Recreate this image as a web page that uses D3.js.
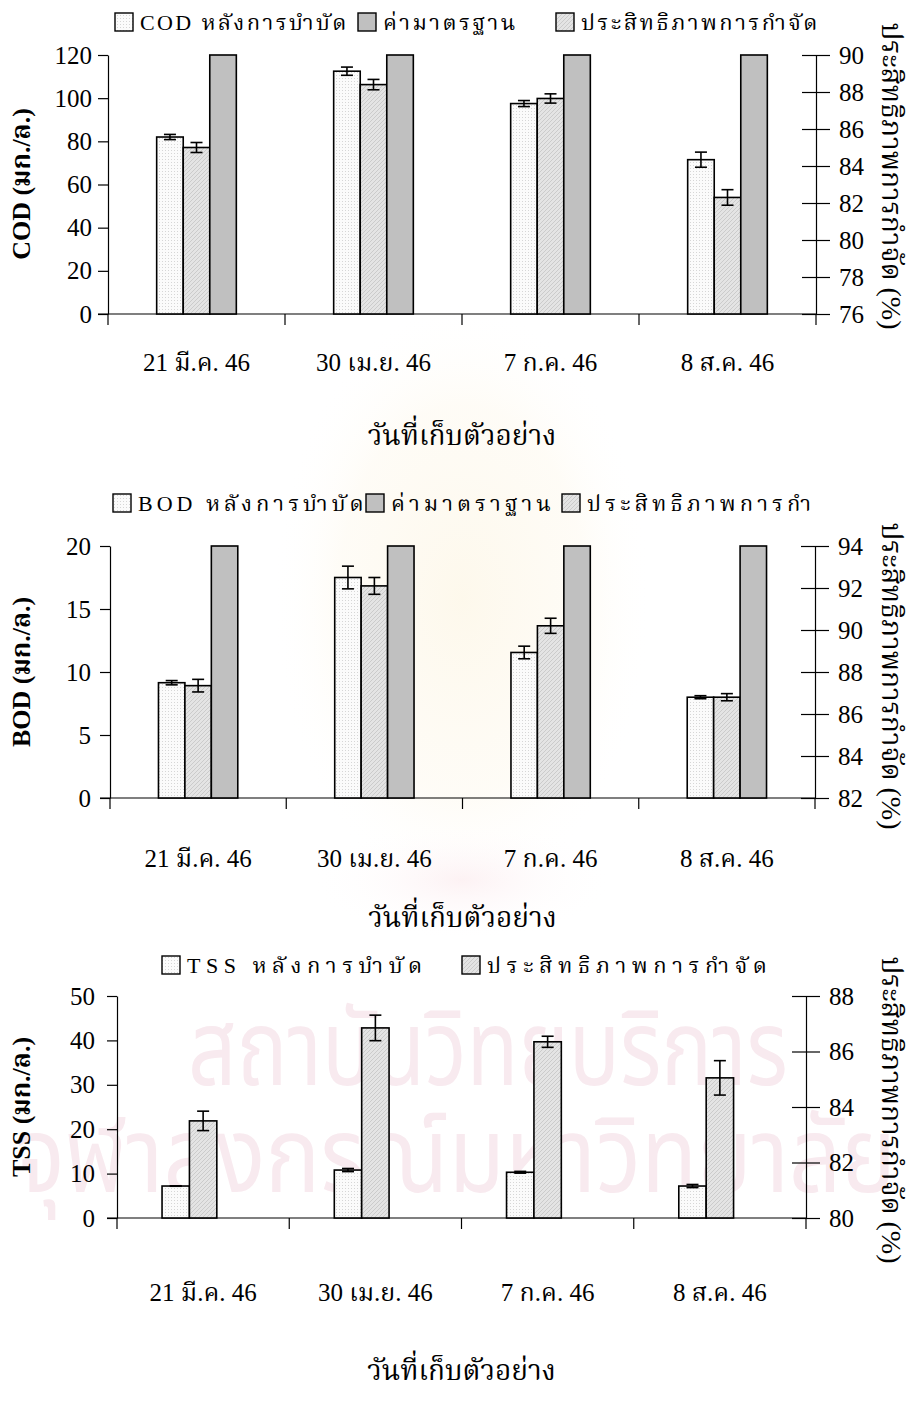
<!DOCTYPE html>
<html>
<head>
<meta charset="utf-8">
<script src="https://cdn.jsdelivr.net/npm/d3@7/dist/d3.min.js"></script>
<style>
  html, body { margin: 0; padding: 0; background: #fff; }
  svg { display: block; }
</style>
</head>
<body>
<svg id="fig" width="913" height="1405"></svg>
<script>
// Sampling dates (x categories shared by all three panels)
const dates = ["21 มี.ค. 46", "30 เม.ย. 46", "7 ก.ค. 46", "8 ส.ค. 46"];

// COD after treatment (mg/L), standard, removal efficiency (%)
const codAfter = [82, 112.5, 97.5, 71.5];
const codAfterErr = [1.2, 1.9, 1.4, 3.5];
const codStandard = [120, 120, 120, 120];
const codRemoval = [85.0, 88.4, 87.65, 82.3];
const codRemovalErr = [0.27, 0.28, 0.25, 0.42];
const codLeftTicks = [0, 20, 40, 60, 80, 100, 120];
const codRightTicks = [76, 78, 80, 82, 84, 86, 88, 90];

// BOD after treatment (mg/L), standard, removal efficiency (%)
const bodAfter = [9.15, 17.5, 11.55, 8.0];
const bodAfterErr = [0.17, 0.9, 0.5, 0.12];
const bodStandard = [20, 20, 20, 20];
const bodRemoval = [87.35, 92.1, 90.2, 86.8];
const bodRemovalErr = [0.3, 0.4, 0.36, 0.17];
const bodLeftTicks = [0, 5, 10, 15, 20];
const bodRightTicks = [82, 84, 86, 88, 90, 92, 94];

// TSS after treatment (mg/L) and removal efficiency (%)
const tssAfter = [7.2, 10.8, 10.3, 7.2];
const tssAfterErr = [0.05, 0.35, 0.2, 0.35];
const tssRemoval = [83.5, 86.85, 86.35, 85.05];
const tssRemovalErr = [0.35, 0.46, 0.2, 0.62];
const tssLeftTicks = [0, 10, 20, 30, 40, 50];
const tssRightTicks = [80, 82, 84, 86, 88];

const xTitle = "วันที่เก็บตัวอย่าง";
const rightTitle = "ประสิทธิภาพการกำจัด (%)";
const watermarkLines = ["สถาบันวิทยบริการ", "จุฬาลงกรณ์มหาวิทยาลัย"];

const SERIF = "'Liberation Serif', 'DejaVu Serif', 'Noto Serif Thai', 'Noto Sans Thai', serif";
const SANS = "'Noto Sans Thai', 'Noto Sans', 'DejaVu Sans', sans-serif";

const svg = d3.select("#fig");
const defs = svg.append("defs");

// Fill textures for the three bar kinds
const pWhite = defs.append("pattern").attr("id", "fillAfter")
  .attr("width", 3).attr("height", 3).attr("patternUnits", "userSpaceOnUse");
pWhite.append("rect").attr("width", 3).attr("height", 3).attr("fill", "#fbfbfb");
pWhite.append("rect").attr("width", 1).attr("height", 1).attr("fill", "#d6d6d6");

const pLight = defs.append("pattern").attr("id", "fillRemoval")
  .attr("width", 4).attr("height", 4).attr("patternUnits", "userSpaceOnUse");
pLight.append("rect").attr("width", 4).attr("height", 4).attr("fill", "#e4e4e4");
pLight.append("path").attr("d", "M0,4 L4,0 M-1,1 L1,-1 M3,5 L5,3")
  .attr("stroke", "#cbcbcb").attr("stroke-width", 1);

const FILL_AFTER = "url(#fillAfter)";
const FILL_REMOVAL = "url(#fillRemoval)";
const FILL_STANDARD = "#c0c0c0";

// Faint institutional watermark behind the panels
const wm = svg.append("g").attr("class", "watermark");
const glow = defs.append("radialGradient").attr("id", "emblemGlow");
glow.append("stop").attr("offset", "0%").attr("stop-color", "#fcf3dc").attr("stop-opacity", 0.55);
glow.append("stop").attr("offset", "65%").attr("stop-color", "#fdf6e6").attr("stop-opacity", 0.35);
glow.append("stop").attr("offset", "100%").attr("stop-color", "#ffffff").attr("stop-opacity", 0);
wm.append("ellipse").attr("cx", 462).attr("cy", 600).attr("rx", 190).attr("ry", 300)
  .attr("fill", "url(#emblemGlow)");
const pinkGlow = defs.append("radialGradient").attr("id", "emblemBase");
pinkGlow.append("stop").attr("offset", "0%").attr("stop-color", "#fbe9ec").attr("stop-opacity", 0.6);
pinkGlow.append("stop").attr("offset", "100%").attr("stop-color", "#ffffff").attr("stop-opacity", 0);
wm.append("ellipse").attr("cx", 462).attr("cy", 880).attr("rx", 150).attr("ry", 60)
  .attr("fill", "url(#emblemBase)");
wm.append("text").attr("x", 488).attr("y", 1085).attr("text-anchor", "middle")
  .attr("font-family", SANS).attr("font-size", 105).attr("fill", "#f8eaef")
  .attr("textLength", 600).attr("lengthAdjust", "spacingAndGlyphs")
  .text(watermarkLines[0]);
wm.append("text").attr("x", 456).attr("y", 1192).attr("text-anchor", "middle")
  .attr("font-family", SANS).attr("font-size", 105).attr("fill", "#f8eaef")
  .attr("textLength", 880).attr("lengthAdjust", "spacingAndGlyphs")
  .text(watermarkLines[1]);

const panels = [
  {
    id: "cod", top: 55, bottom: 314, left: 108, right: 816, barFrac: 0.15, slots: 3,
    leftDomain: [0, 120], leftTicks: codLeftTicks, leftPad: 6,
    rightDomain: [76, 90], rightTicks: codRightTicks,
    leftTitle: "COD (มก./ล.)", titleCy: 184, rightTitleCy: 176,
    labelDy: 57, xTitleY: 445,
    legendY: 22, legendSpacing: 2.4, legendClip: 818,
    legend: [
      { x: 115, label: "COD หลังการบำบัด", fill: FILL_AFTER },
      { x: 358, label: "ค่ามาตรฐาน", fill: FILL_STANDARD },
      { x: 556, label: "ประสิทธิภาพการกำจัด", fill: FILL_REMOVAL }
    ],
    series: [
      { values: codAfter, errors: codAfterErr, axis: "left", slot: 0, fill: FILL_AFTER },
      { values: codRemoval, errors: codRemovalErr, axis: "right", slot: 1, fill: FILL_REMOVAL },
      { values: codStandard, axis: "left", slot: 2, fill: FILL_STANDARD }
    ]
  },
  {
    id: "bod", top: 546, bottom: 798, left: 110, right: 815, barFrac: 0.15, slots: 3,
    leftDomain: [0, 20], leftTicks: bodLeftTicks, leftPad: 9,
    rightDomain: [82, 94], rightTicks: bodRightTicks,
    leftTitle: "BOD (มก./ล.)", titleCy: 672, rightTitleCy: 676,
    labelDy: 69, xTitleY: 927,
    legendY: 503, legendSpacing: 4, legendClip: 812,
    legend: [
      { x: 113, label: "BOD หลังการบำบัด", fill: FILL_AFTER },
      { x: 366, label: "ค่ามาตราฐาน", fill: FILL_STANDARD },
      { x: 562, label: "ประสิทธิภาพการกำจัด", fill: FILL_REMOVAL }
    ],
    series: [
      { values: bodAfter, errors: bodAfterErr, axis: "left", slot: 0, fill: FILL_AFTER },
      { values: bodRemoval, errors: bodRemovalErr, axis: "right", slot: 1, fill: FILL_REMOVAL },
      { values: bodStandard, axis: "left", slot: 2, fill: FILL_STANDARD }
    ]
  },
  {
    id: "tss", top: 996, bottom: 1218, left: 117, right: 806, barFrac: 0.159, slots: 3,
    leftDomain: [0, 50], leftTicks: tssLeftTicks, leftPad: 12,
    rightDomain: [80, 88], rightTicks: tssRightTicks,
    leftTitle: "TSS (มก./ล.)", titleCy: 1107, rightTitleCy: 1110,
    labelDy: 83, xTitleY: 1380,
    legendY: 965, legendSpacing: 5.5, legendClip: 820,
    legend: [
      { x: 162, label: "TSS หลังการบำบัด", fill: FILL_AFTER },
      { x: 462, label: "ประสิทธิภาพการกำจัด", fill: FILL_REMOVAL }
    ],
    series: [
      { values: tssAfter, errors: tssAfterErr, axis: "left", slot: 0, fill: FILL_AFTER },
      { values: tssRemoval, errors: tssRemovalErr, axis: "right", slot: 1, fill: FILL_REMOVAL }
    ]
  }
];

function styleAxis(sel, size) {
  sel.attr("font-family", SERIF).attr("font-size", size);
  sel.selectAll("text").attr("fill", "#000");
  sel.selectAll("line").attr("stroke", "#000").attr("stroke-width", 1.2);
  sel.select(".domain").attr("stroke", "#000").attr("stroke-width", 1.2);
}

function drawPanel(p) {
  const g = svg.append("g").attr("class", "panel-" + p.id);

  const x = d3.scaleBand().domain(dates).range([p.left, p.right]);
  const bw = x.bandwidth();
  const barW = bw * p.barFrac;
  const slot = d3.scaleBand().domain(d3.range(p.slots))
    .range([bw / 2 - p.slots / 2 * barW, bw / 2 + p.slots / 2 * barW]);
  const yL = d3.scaleLinear().domain(p.leftDomain).range([p.bottom, p.top]);
  const yR = d3.scaleLinear().domain(p.rightDomain).range([p.bottom, p.top]);

  // Left value axis (ticks outside)
  const gl = g.append("g").attr("transform", `translate(${p.left},0)`)
    .call(d3.axisLeft(yL).tickValues(p.leftTicks).tickFormat(d3.format("d"))
      .tickSizeInner(10).tickSizeOuter(0).tickPadding(p.leftPad));
  styleAxis(gl, 25);

  // Right value axis (ticks crossing)
  const gr = g.append("g").attr("transform", `translate(${p.right},0)`)
    .call(d3.axisRight(yR).tickValues(p.rightTicks).tickFormat(d3.format("d"))
      .tickSizeInner(14).tickSizeOuter(0).tickPadding(9));
  styleAxis(gr, 25);
  gr.selectAll(".tick line").attr("x1", -14);

  // Category axis: baseline, boundary ticks, labels
  const gx = g.append("g").attr("transform", `translate(0,${p.bottom})`)
    .call(d3.axisBottom(x).tickSize(0).tickPadding(p.labelDy));
  styleAxis(gx, 25);
  gx.select(".domain").remove();
  gx.selectAll(".tick text").attr("dy", "0");
  const bounds = dates.map(d => x(d)).concat([x(dates[dates.length - 1]) + x.step()]);
  g.append("line").attr("x1", p.left - 10).attr("x2", p.right)
    .attr("y1", yL(0)).attr("y2", yL(0)).attr("stroke", "#000").attr("stroke-width", 1.2);
  g.append("g").selectAll("line").data(bounds).join("line")
    .attr("x1", d => d).attr("x2", d => d)
    .attr("y1", yL(0)).attr("y2", yL(0) + 11)
    .attr("stroke", "#000").attr("stroke-width", 1.2);

  // Bars and error bars
  p.series.forEach(s => {
    const y = s.axis === "right" ? yR : yL;
    const base = y.domain()[0];
    const xs = (i) => x(dates[i]) + slot(s.slot);
    g.append("g").selectAll("rect").data(s.values).join("rect")
      .attr("x", (d, i) => xs(i))
      .attr("width", slot.bandwidth())
      .attr("y", d => y(d))
      .attr("height", d => y(base) - y(d))
      .attr("fill", s.fill)
      .attr("stroke", "#000").attr("stroke-width", 1.6);
    if (s.errors) {
      const eg = g.append("g").attr("stroke", "#000").attr("stroke-width", 1.6);
      s.values.forEach((v, i) => {
        const cx = xs(i) + slot.bandwidth() / 2;
        const e = s.errors[i];
        eg.append("line").attr("x1", cx).attr("x2", cx).attr("y1", y(v + e)).attr("y2", y(v - e));
        eg.append("line").attr("x1", cx - 6).attr("x2", cx + 6).attr("y1", y(v + e)).attr("y2", y(v + e));
        eg.append("line").attr("x1", cx - 6).attr("x2", cx + 6).attr("y1", y(v - e)).attr("y2", y(v - e));
      });
    }
  });

  // Axis titles
  g.append("text")
    .attr("transform", `translate(30,${p.titleCy}) rotate(-90)`)
    .attr("text-anchor", "middle")
    .attr("font-family", SERIF).attr("font-size", 26).attr("font-weight", "bold")
    .text(p.leftTitle);
  g.append("text")
    .attr("transform", `translate(882,${p.rightTitleCy}) rotate(90)`)
    .attr("text-anchor", "middle")
    .attr("font-family", SERIF).attr("font-size", 28)
    .text(rightTitle);
  g.append("text")
    .attr("x", (p.left + p.right) / 2).attr("y", p.xTitleY)
    .attr("text-anchor", "middle")
    .attr("font-family", SERIF).attr("font-size", 28)
    .text(xTitle);

  // Legend (clipped on the right like the chart frame)
  const clipId = "legclip-" + p.id;
  defs.append("clipPath").attr("id", clipId).append("rect")
    .attr("x", 0).attr("y", p.legendY - 30).attr("width", p.legendClip).attr("height", 60);
  const lg = g.append("g").attr("clip-path", `url(#${clipId})`);
  lg.selectAll("text").data(p.legend).join("text")
    .attr("x", d => d.x + 25).attr("y", p.legendY + 8)
    .attr("font-family", SERIF).attr("font-size", 22)
    .attr("letter-spacing", p.legendSpacing)
    .text(d => d.label);
  lg.selectAll("rect").data(p.legend).join("rect")
    .attr("x", d => d.x).attr("y", p.legendY - 9)
    .attr("width", 18).attr("height", 18)
    .attr("fill", d => d.fill).attr("stroke", "#000").attr("stroke-width", 1.4);
}

panels.forEach(drawPanel);
</script>
</body>
</html>
